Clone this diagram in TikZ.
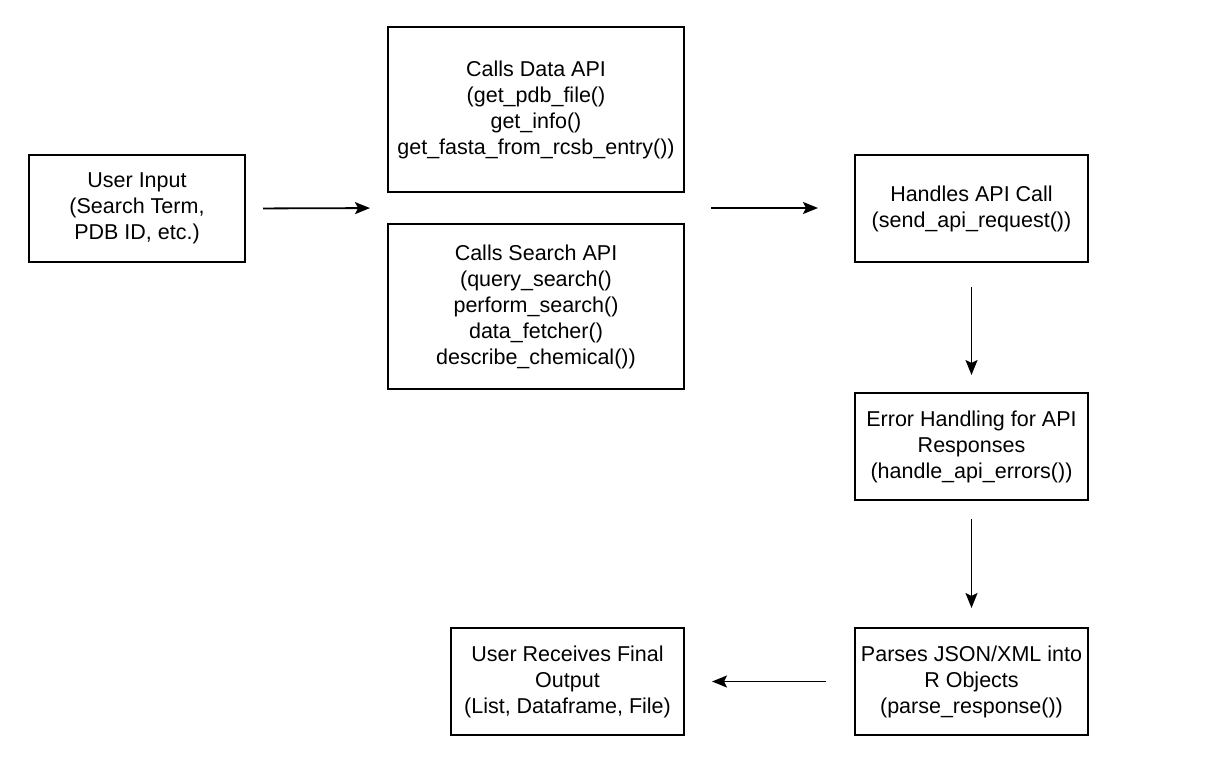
\documentclass[tikz,border=0pt]{standalone}
\usepackage{fontspec}
\setmainfont{Liberation Sans}
\usetikzlibrary{positioning, arrows.meta, calc}

\begin{document}
\begin{tikzpicture}[x=1pt, y=-1pt,
	box/.style={rectangle, draw, line width=1.8pt, align=center, inner sep=2pt, outer sep=0pt,
		minimum width=233pt, minimum height=107pt, font=\fontsize{21.5}{26}\selectfont},
	arr/.style={-{Stealth[length=15pt, width=12pt, inset=3pt]}, line width=1.8pt}]
	\useasboundingbox (0,0) rectangle (1228,776);

	\node[box, minimum width=216pt] (in) at (137,208.5) {User Input\\(Search Term,\\PDB ID, etc.)};
	\node[box, minimum width=296pt, minimum height=165pt] (data) at (536,109.5) {Calls Data API\\(get\_pdb\_file()\\get\_info()\\get\_fasta\_from\_rcsb\_entry())};
	\node[box, minimum width=296pt, minimum height=165pt, below=32pt of data] (search) {Calls Search API\\(query\_search()\\perform\_search()\\data\_fetcher()\\describe\_chemical())};
	\node[box] (api) at (971.5,208.5) {Handles API Call\\(send\_api\_request())};
	\node[box, below=131pt of api] (err) {Error Handling for API\\Responses\\(handle\_api\_errors())};
	\node[box, below=128pt of err] (parse) {Parses JSON/XML into\\R Objects\\(parse\_response())};
	\node[box, left=171pt of parse] (out) {User Receives Final\\Output\\(List, Dataframe, File)};

	\coordinate (gapL) at ($(data.south west)!.5!(search.north west)$);
	\coordinate (gapR) at ($(data.south east)!.5!(search.north east)$);

	\draw[arr, shorten <=18pt, shorten >=18pt] (in.east) -- (gapL);
	\draw[arr, shorten <=27pt, shorten >=37pt] (gapR) -- (api.west |- gapR);
	\draw[arr, shorten <=25pt, shorten >=18pt] (api) -- (err);
	\draw[arr, shorten <=19pt, shorten >=20pt] (err) -- (parse);
	\draw[arr, shorten <=29pt, shorten >=28pt] (parse) -- (out);
\end{tikzpicture}
\end{document}
